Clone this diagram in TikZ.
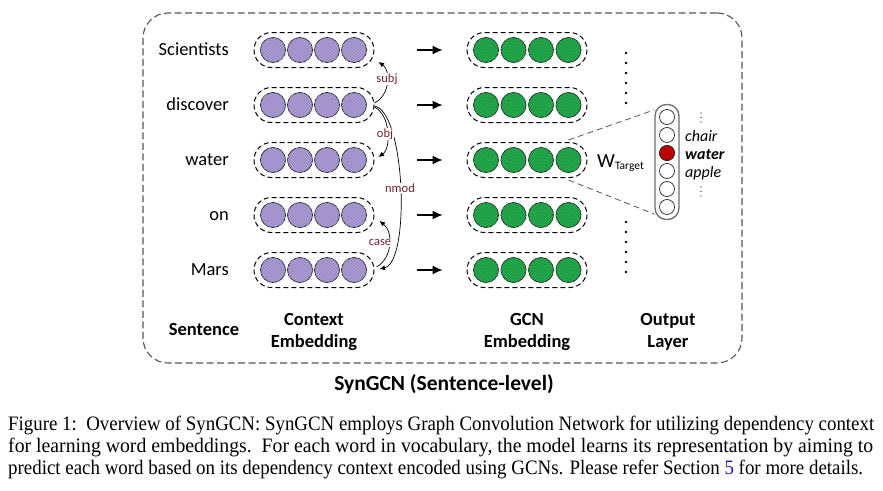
\documentclass[tikz,border=0pt]{standalone}
\usepackage{fontspec}
\usepackage{graphicx}
\setmainfont{Liberation Serif}
\newfontfamily\calfont{Carlito}
\usetikzlibrary{patterns,arrows.meta,calc}
\definecolor{purp}{RGB}{158,141,200}
\definecolor{purpline}{RGB}{178,164,214}
\definecolor{grn}{RGB}{22,156,64}
\definecolor{grnline}{RGB}{56,176,90}
\definecolor{deplab}{RGB}{115,32,45}
\definecolor{boxgray}{RGB}{85,85,85}
\definecolor{refblue}{RGB}{30,30,170}
\definecolor{outred}{RGB}{192,0,0}
\tikzset{
  ctxdot/.style={circle, draw=black!85, line width=0.8pt, fill=purp, minimum size=25pt, inner sep=0pt,
    postaction={pattern=north east lines, pattern color=purpline}},
  gcndot/.style={circle, draw=black!85, line width=0.8pt, fill=grn, minimum size=25pt, inner sep=0pt,
    postaction={pattern=north east lines, pattern color=grnline}},
  capsule/.style={draw=black, dash pattern=on 5pt off 3pt, line width=1pt, rounded corners=17.4pt,
    minimum width=120pt, minimum height=35pt, inner sep=0pt},
  outdot/.style={circle, draw=black!85, line width=0.7pt, fill=white, minimum size=15pt, inner sep=0pt},
  rowarrow/.style={line width=1.2pt, -{Latex[length=10pt,width=9pt]}, shorten <=42pt, shorten >=24pt},
  deparrow/.style={line width=0.7pt, -{Latex[length=5.5pt,width=5pt]}},
  deptext/.style={font=\calfont\fontsize{12.5}{13}\selectfont, text=deplab, fill=white, inner sep=1pt},
  wordtext/.style={font=\calfont\fontsize{18.5}{20}\selectfont, inner sep=0pt},
  headtext/.style={font=\calfont\bfseries\fontsize{18.5}{20}\selectfont, inner sep=0pt},
  vocab/.style={font=\calfont\itshape\fontsize{16}{16}\selectfont, inner sep=0pt},
  wline/.style={draw=boxgray, dash pattern=on 6pt off 4pt, line width=0.8pt},
  frame/.style={draw=boxgray, dash pattern=on 7pt off 3.5pt, line width=1.1pt, rounded corners=25pt,
    minimum width=599pt, minimum height=350pt, inner sep=0pt},
  captext/.style={anchor=base west, inner sep=0pt},
}
\begin{document}
\begin{tikzpicture}[x=1pt,y=-1pt]
\useasboundingbox (0,0) rectangle (883,490);
\fill[white] (0,0) rectangle (883,490);
% outer frame
\node[frame] (frame) at (442.5,188) {};
% rows
\foreach \i/\y/\w in {1/50/Scientists,2/105/discover,3/160/water,4/215/on,5/270/Mars}{
  \node[wordtext, anchor=base east] (word\i) at (229,\y+5.5) {\w};
  \foreach \k in {0,1,2,3}{
    \node[ctxdot] (cd\i-\k) at (273+27*\k,\y) {};
    \node[gcndot] (gd\i-\k) at (486+27.5*\k,\y) {};
  }
  \node[capsule] (ctx\i) at (314,\y) {};
  \node[capsule] (gcn\i) at (527,\y) {};
  \draw[rowarrow] (ctx\i) -- (gcn\i);
}
% dependency arcs
\draw[deparrow] ($(ctx2.east)+(0,-2)$) .. controls ($(ctx2.east)+(16,-10)$) and ($(ctx1.east)+(16,20)$) .. ($(ctx1.east)+(4,12)$);
\draw[deparrow] ($(ctx2.east)+(0,2)$) .. controls ($(ctx2.east)+(16,10)$) and ($(ctx3.east)+(17,-12)$) .. ($(ctx3.east)+(4,-3)$);
\draw[deparrow] ($(ctx2.east)+(0,1)$) .. controls ($(ctx2.east)+(31,7)$) and ($(ctx5.east)+(36,-8)$) .. ($(ctx5.east)+(5,-1)$);
\draw[deparrow] ($(ctx5.east)+(2,-3)$) .. controls ($(ctx5.east)+(18,-12)$) and ($(ctx4.east)+(19,17)$) .. ($(ctx4.east)+(5,6)$);
\node[deptext] (lsubj) at (387,79) {subj};
\node[deptext] (lobj) at (385,134) {obj};
\node[deptext] (lnmod) at (400,188) {nmod};
\node[deptext] (lcase) at (380,243) {case};
% column dots
\foreach \y in {53,63,...,103}{ \fill (626,\y) circle (1.3pt); }
\foreach \y in {222,232,...,272}{ \fill (626,\y) circle (1.3pt); }
% output layer
\node[draw=gray!85!black, line width=1.3pt, rounded corners=11.5pt, minimum width=24pt, minimum height=115pt, inner sep=0pt] (outcap) at (667,162) {};
\foreach \j in {1,...,6}{
  \node[outdot] (o\j) at (667,99+18*\j) {};
}
\node[outdot, fill=outred] at (o3) {};
\draw[wline] ($(gcn3.east)+(-19,-20)$) -- ($(outcap.north west)+(0,6)$);
\draw[wline] ($(gcn3.east)+(-19,20)$) -- ($(outcap.south west)+(0,-6)$);
\node[anchor=base west, inner sep=0pt, font=\calfont\fontsize{20}{20}\selectfont] (wt) at (597,167) {W\raisebox{-2.5pt}{\fontsize{11.5}{12}\selectfont Target}};
\node[vocab, anchor=base west] (vchair) at (685,141) {chair};
\node[vocab, anchor=base west, font=\calfont\bfseries\itshape\fontsize{16}{16}\selectfont] (vwater) at (685,159) {water};
\node[vocab, anchor=base west] (vapple) at (685,177) {apple};
\foreach \y in {113,117.5,122,187,191.5,196}{ \fill (701,\y) circle (0.6pt); }
% headers
\node[headtext, anchor=base] (hsent) at (204,335) {Sentence};
\node[headtext, anchor=base] (hctx1) at (314,325) {Context};
\node[headtext, anchor=base] (hctx2) at (314,347) {Embedding};
\node[headtext, anchor=base] (hgcn1) at (527,325) {GCN};
\node[headtext, anchor=base] (hgcn2) at (527,347) {Embedding};
\node[headtext, anchor=base] (hout1) at (668,325) {Output};
\node[headtext, anchor=base] (hout2) at (668,347) {Layer};
\node[anchor=base, inner sep=0pt, font=\calfont\bfseries\fontsize{21.5}{22}\selectfont] (title) at (444,390) {SynGCN (Sentence-level)};
% caption
\node[captext] (cap1) at (8,430) {\resizebox{866pt}{\height}{\fontsize{20.5}{22}\selectfont Figure 1:\ \ Overview of SynGCN: SynGCN employs Graph Convolution Network for utilizing dependency context}};
\node[captext] (cap2) at (8,452) {\resizebox{865pt}{\height}{\fontsize{20.5}{22}\selectfont for learning word embeddings.\ \ For each word in vocabulary, the model learns its representation by aiming to}};
\node[captext] (cap3) at (8,474) {\resizebox{855pt}{\height}{\fontsize{20.5}{22}\selectfont predict each word based on its dependency context encoded using GCNs. Please refer Section {\color{refblue}5} for more details.}};
\end{tikzpicture}
\end{document}
